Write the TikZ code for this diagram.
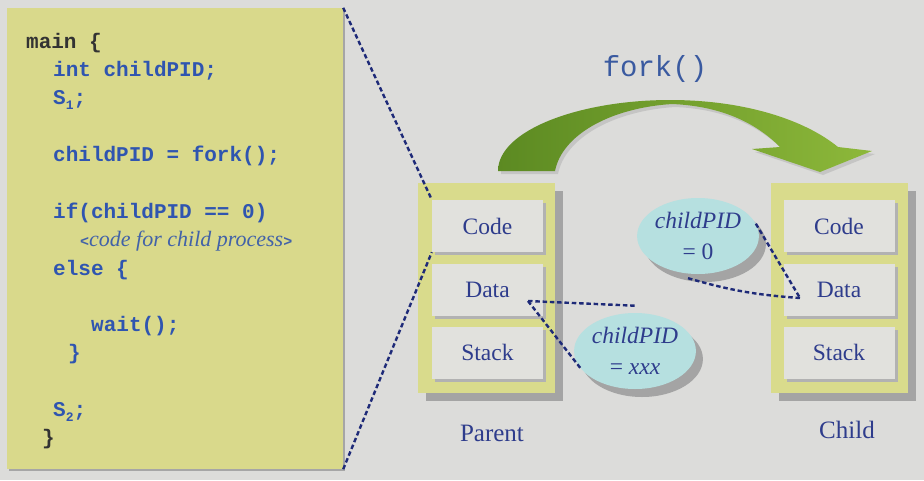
\documentclass[tikz,border=0pt]{standalone}
\usepackage{fontspec}
\setmainfont{Liberation Serif}
\setmonofont{Liberation Mono}
\usetikzlibrary{shapes.geometric,shadows}
\definecolor{bg}{HTML}{DCDCDA}
\definecolor{panelyel}{HTML}{D9D98B}
\definecolor{frameyel}{HTML}{D9DB8C}
\definecolor{boxfill}{HTML}{E1E1DD}
\definecolor{shadowgray}{HTML}{A4A4A4}
\definecolor{codeblue}{HTML}{2F55B0}
\definecolor{codedark}{HTML}{333333}
\definecolor{cmtblue}{HTML}{4262A8}
\definecolor{labblue}{HTML}{2E3C8C}
\definecolor{bubblecyan}{HTML}{B6E0E0}
\definecolor{dashnavy}{HTML}{1E2A78}
\definecolor{forkblue}{HTML}{3A5AA0}
\definecolor{greendark}{HTML}{5C8A22}
\definecolor{greenlight}{HTML}{8DB83A}
\begin{document}
\begin{tikzpicture}[x=1pt,y=-1pt,
  codeline/.style={anchor=base west,inner sep=0pt,text=codeblue,
    font=\fontsize{21}{21}\selectfont\ttfamily\bfseries},
  codeblack/.style={codeline,text=codedark},
  membox/.style={rectangle,fill=boxfill,minimum width=111pt,minimum height=52pt,
    inner sep=0pt,text=labblue,font=\fontsize{23.5}{23.5}\selectfont,
    drop shadow={shadow xshift=3pt,shadow yshift=-3pt,fill=shadowgray!85,opacity=1}},
  framebox/.style={rectangle,fill=frameyel,minimum width=137pt,minimum height=210pt,
    inner sep=0pt,
    drop shadow={shadow xshift=8pt,shadow yshift=-8pt,fill=shadowgray,opacity=1}},
  bubble/.style={ellipse,fill=bubblecyan,minimum width=108pt,minimum height=76pt,
    inner sep=0pt,align=center,text=labblue,font=\fontsize{23.5}{31}\selectfont,
    drop shadow={shadow xshift=7pt,shadow yshift=-8pt,fill=shadowgray,opacity=1}},
  conn/.style={draw=dashnavy,line width=2.4pt,dash pattern=on 4.5pt off 2.8pt},
  caption/.style={text=labblue,font=\fontsize{25}{25}\selectfont}
]
\fill[bg] (0,0) rectangle (924,480);
\useasboundingbox (0,0) rectangle (924,480);

% code panel
\node[rectangle,fill=panelyel,minimum width=336pt,minimum height=461pt,inner sep=0pt,
  drop shadow={shadow xshift=2pt,shadow yshift=-2pt,fill=gray!70,opacity=1}]
  (panel) at (175,238.5) {};

\node[codeblack] (l1) at (26,48) {main \{};
\node[codeline] (l2) at (53,76) {int childPID;};
\node[codeline] (l3) at (53,104) {S\raisebox{-0.25em}{\fontsize{13}{13}\selectfont 1};};
\node[codeline] (l4) at (53,161) {childPID = fork();};
\node[codeline] (l5) at (53,218) {if(childPID == 0)};
\node[anchor=base west,inner sep=0pt,text=cmtblue,font=\fontsize{22}{22}\selectfont\itshape]
  (l6) at (80,246) {\textup{\fontsize{15}{15}\selectfont\bfseries\ttfamily<}code for child process\textup{\fontsize{15}{15}\selectfont\bfseries\ttfamily>}};
\node[codeline] (l7) at (53,275) {else \{};
\node[codeline] (l8) at (91,331) {wait();};
\node[codeline] (l9) at (68,359) {\}};
\node[codeline] (l10) at (53,416) {S\raisebox{-0.25em}{\fontsize{13}{13}\selectfont 2};};
\node[codeblack] (l11) at (42,444) {\}};

% fork arrow
\fill[shadowgray!80,opacity=0.6,shift={(3,3)}]
  (498,171) .. controls (498,130) and (580,100) .. (670,100)
  .. controls (745,100) and (805,120) .. (838,147) -- (872,151) -- (820,172)
  -- (752,149) -- (780,147) .. controls (755,122) and (720,106) .. (672,104)
  .. controls (610,108) and (562,135) .. (555,171) -- cycle;
\shade[left color=greendark,right color=greenlight]
  (498,171) .. controls (498,130) and (580,100) .. (670,100)
  .. controls (745,100) and (805,120) .. (838,147) -- (872,151) -- (820,172)
  -- (752,149) -- (780,147) .. controls (755,122) and (720,106) .. (672,104)
  .. controls (610,108) and (562,135) .. (555,171) -- cycle;
\node[text=forkblue,font=\fontsize{29}{29}\selectfont\ttfamily,inner sep=0pt]
  (forklab) at (655,69) {fork()};

% parent
\node[framebox] (pframe) at (486.5,288) {};
\node[membox] (pcode) at (487.5,226) {Code};
\node[membox] (pdata) at (487.5,290) {Data};
\node[membox] (pstack) at (487.5,352.5) {Stack};
\node[caption] (plab) at (492,433) {Parent};

% child
\node[framebox] (cframe) at (839.5,288) {};
\node[membox] (ccode) at (839,226) {Code};
\node[membox] (cdata) at (839,290) {Data};
\node[membox] (cstack) at (839,352.5) {Stack};
\node[caption] (clab) at (847,430) {Child};

% bubbles
\node[bubble] (pe) at (635,351) {\textit{childPID}\\= \textit{xxx}};
\node[bubble] (ce) at (698,236) {\textit{childPID}\\= 0};

% connectors
\coordinate (pdot) at (528,301);
\coordinate (cdot) at (800,298);
\draw[conn] (panel.north east) -- (pcode.north west);
\draw[conn] (panel.south east) -- (pcode.south west);
\draw[conn] (pdot) -- ([shift={(2,-7)}]pe.north);
\draw[conn] (pdot) -- (pe.199);
\draw[conn] (ce.12) -- (cdot);
\draw[conn] ([shift={(-10,4)}]ce.south) to[bend right=6] (cdot);
\end{tikzpicture}
\end{document}
